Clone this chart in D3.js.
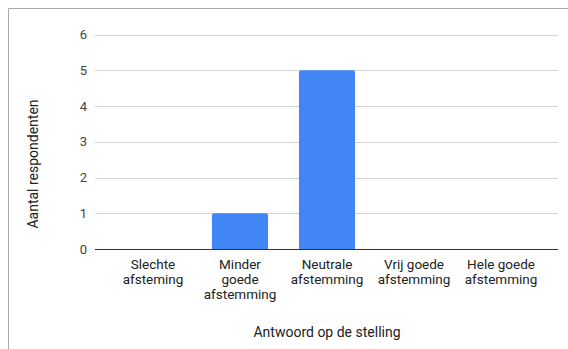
<!DOCTYPE html>
<html>
<head>
<meta charset="utf-8">
<script src="https://cdn.jsdelivr.net/npm/d3@7"></script>
<style>
  html, body { margin: 0; padding: 0; background: #fff; }
  svg { display: block; font-family: Roboto, "Liberation Sans", Arial, sans-serif; }
</style>
</head>
<body>
<svg id="chart" width="568" height="349"></svg>
<script>
// Answers to the statement and number of respondents per answer
const categories = [
  ["Slechte", "afsteming"],
  ["Minder", "goede", "afstemming"],
  ["Neutrale", "afstemming"],
  ["Vrij goede", "afstemming"],
  ["Hele goede", "afstemming"]
];
const counts = [0, 1, 5, 0, 0];
const yTicks = [0, 1, 2, 3, 4, 5, 6];
const xTitle = "Antwoord op de stelling";
const yTitle = "Aantal respondenten";

const svg = d3.select("#chart");
const W = 568, H = 349;

// card frame (top and left edges visible)
svg.append("path")
  .attr("d", `M8.5,${H} V8.5 H${W}`)
  .attr("fill", "none")
  .attr("stroke", "#a8a8a8")
  .attr("stroke-width", 1);

const gridLeft = 95, gridRight = 558;
const keys = categories.map((c, i) => i);

const x = d3.scaleBand()
  .domain(keys)
  .range([109.5, 544.5])
  .paddingInner(0.356)
  .paddingOuter(0.178);

const y = d3.scaleLinear()
  .domain([0, 6])
  .range([249, 34.5]);

// gridlines
svg.append("g")
  .selectAll("line")
  .data(yTicks.filter(t => t !== 0))
  .join("line")
  .attr("x1", gridLeft).attr("x2", gridRight)
  .attr("y1", d => Math.round(y(d)) + 0.5)
  .attr("y2", d => Math.round(y(d)) + 0.5)
  .attr("stroke", "#d4d4d4")
  .attr("stroke-width", 1);

// y tick labels
svg.append("g")
  .selectAll("text")
  .data(yTicks)
  .join("text")
  .attr("x", 87)
  .attr("y", d => y(d))
  .attr("dy", "0.36em")
  .attr("text-anchor", "end")
  .attr("font-size", 13)
  .attr("fill", "#444")
  .text(d => d);

// bars
svg.append("g")
  .selectAll("path")
  .data(counts.map((v, i) => ({ v, i })).filter(d => d.v > 0))
  .join("path")
  .attr("d", d => {
    const x0 = x(d.i), w = x.bandwidth(), y0 = y(d.v), y1 = y(0), r = 2;
    return `M${x0},${y1} V${y0 + r} Q${x0},${y0} ${x0 + r},${y0} H${x0 + w - r} Q${x0 + w},${y0} ${x0 + w},${y0 + r} V${y1} Z`;
  })
  .attr("fill", "#4285f4");

// baseline
svg.append("line")
  .attr("x1", gridLeft).attr("x2", gridRight)
  .attr("y1", y(0) + 0.5).attr("y2", y(0) + 0.5)
  .attr("stroke", "#333")
  .attr("stroke-width", 1);

// category labels, one text per wrapped line
const lineH = 15;
svg.append("g")
  .selectAll("g")
  .data(categories)
  .join("g")
  .attr("transform", (d, i) => `translate(${x(i) + x.bandwidth() / 2},269)`)
  .selectAll("text")
  .data(d => d)
  .join("text")
  .attr("y", (d, j) => j * lineH)
  .attr("text-anchor", "middle")
  .attr("font-size", 13.5)
  .attr("fill", "#222")
  .text(d => d);

// axis titles
svg.append("text")
  .attr("x", 327)
  .attr("y", 337)
  .attr("text-anchor", "middle")
  .attr("font-size", 14)
  .attr("fill", "#222")
  .text(xTitle);

svg.append("text")
  .attr("transform", "translate(38,164) rotate(-90)")
  .attr("text-anchor", "middle")
  .attr("font-size", 14)
  .attr("fill", "#222")
  .text(yTitle);
</script>
</body>
</html>
